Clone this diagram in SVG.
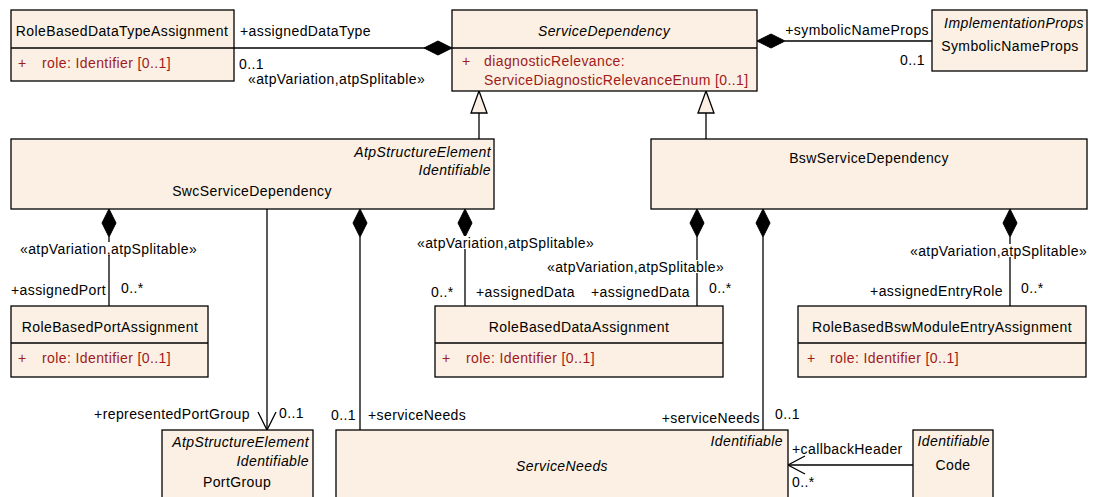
<svg xmlns="http://www.w3.org/2000/svg" width="1094" height="497" viewBox="0 0 1094 497">
<style>
text{font-family:"Liberation Sans",Arial,sans-serif;font-size:14px;letter-spacing:0.4px;fill:#000}
.box{fill:#FBF0E3;stroke:#000;stroke-width:1.3}
.div{stroke:#000;stroke-width:1.3}
.it{font-style:italic}
.m{text-anchor:middle}
.e{text-anchor:end}
.attr{fill:#A01A1A}
.ln{stroke:#000;stroke-width:1.3;fill:none}
.dia{fill:#000;stroke:#000}
.tri{fill:#FBF0E3;stroke:#000;stroke-width:1.3}
.bg{fill:#fff}
</style>
<defs>
<polygon id="dh" class="dia" points="0,0 14,-7 28,0 14,7"/>
<polygon id="dv" class="dia" points="0,0 -7,14 0,28 7,14"/>
</defs>

<g id="connectors">
<line class="ln" x1="234" y1="48" x2="425" y2="48"/>
<use href="#dh" x="424" y="48"/>
<line class="ln" x1="785" y1="41" x2="932" y2="41"/>
<use href="#dh" x="757" y="41"/>
<line class="ln" x1="479" y1="113" x2="479" y2="139"/>
<polygon class="tri" points="479,91 471,113 487,113"/>
<line class="ln" x1="706" y1="113" x2="706" y2="139"/>
<polygon class="tri" points="706,91 698,113 714,113"/>
<line class="ln" x1="109" y1="237" x2="109" y2="306"/>
<use href="#dv" x="109" y="209"/>
<line class="ln" x1="267" y1="209" x2="267" y2="430"/>
<polyline class="ln" points="258,412 267,430 276,412"/>
<line class="ln" x1="360" y1="237" x2="360" y2="430"/>
<use href="#dv" x="360" y="209"/>
<line class="ln" x1="465" y1="237" x2="465" y2="306"/>
<use href="#dv" x="465" y="209"/>
<line class="ln" x1="697" y1="237" x2="697" y2="306"/>
<use href="#dv" x="697" y="209"/>
<line class="ln" x1="763" y1="237" x2="763" y2="430"/>
<use href="#dv" x="763" y="209"/>
<line class="ln" x1="1010" y1="237" x2="1010" y2="306"/>
<use href="#dv" x="1010" y="209"/>
<line class="ln" x1="913" y1="465" x2="788" y2="465"/>
<polyline class="ln" points="805,456 788,465 805,474"/>

<text x="240" y="36">+assignedDataType</text>
<text x="239" y="69">0..1</text>
<text x="248" y="84">«atpVariation,atpSplitable»</text>
<text class="e" x="929" y="35">+symbolicNameProps</text>
<text class="e" x="925" y="65">0..1</text>

<rect class="bg" x="18" y="242" width="186" height="13"/>
<text x="20" y="254">«atpVariation,atpSplitable»</text>
<rect class="bg" x="415" y="236" width="188" height="13"/>
<text x="417" y="248">«atpVariation,atpSplitable»</text>
<rect class="bg" x="545" y="260" width="188" height="13"/>
<text x="547" y="272">«atpVariation,atpSplitable»</text>
<rect class="bg" x="908" y="244" width="186" height="13"/>
<text x="910" y="256">«atpVariation,atpSplitable»</text>

<text x="11" y="295">+assignedPort</text>
<text x="121" y="293">0..*</text>
<text x="431" y="297">0..*</text>
<text x="476" y="297">+assignedData</text>
<text class="e" x="690" y="297">+assignedData</text>
<text x="709" y="293">0..*</text>
<text class="e" x="1003" y="296">+assignedEntryRole</text>
<text x="1021" y="293">0..*</text>

<text class="e" x="250" y="419">+representedPortGroup</text>
<text x="279" y="418">0..1</text>
<text x="331" y="420">0..1</text>
<text x="368" y="420">+serviceNeeds</text>
<text class="e" x="760" y="423">+serviceNeeds</text>
<text x="775" y="419">0..1</text>
<text x="792" y="454">+callbackHeader</text>
<text x="792" y="487">0..*</text>
</g>

<g id="RoleBasedDataTypeAssignment">
<rect class="box" x="11" y="10" width="223" height="71"/>
<line class="div" x1="11" y1="48" x2="234" y2="48"/>
<text class="m" x="122" y="36">RoleBasedDataTypeAssignment</text>
<text class="attr" x="18" y="68">+</text>
<text class="attr" x="42" y="68">role: Identifier [0..1]</text>
</g>

<g id="ServiceDependency">
<rect class="box" x="452" y="10" width="305" height="81"/>
<line class="div" x1="452" y1="48" x2="757" y2="48"/>
<text class="m it" x="604" y="36">ServiceDependency</text>
<text class="attr" x="462" y="66">+</text>
<text class="attr" x="484" y="66">diagnosticRelevance:</text>
<text class="attr" x="484" y="85">ServiceDiagnosticRelevanceEnum [0..1]</text>
</g>

<g id="SymbolicNameProps">
<rect class="box" x="932" y="10" width="155" height="61"/>
<text class="e it" x="1084" y="28">ImplementationProps</text>
<text class="m" x="1010" y="51">SymbolicNameProps</text>
</g>

<g id="SwcServiceDependency">
<rect class="box" x="11" y="139" width="483" height="70"/>
<text class="e it" x="491" y="157">AtpStructureElement</text>
<text class="e it" x="491" y="175">Identifiable</text>
<text class="m" x="252" y="196">SwcServiceDependency</text>
</g>

<g id="BswServiceDependency">
<rect class="box" x="651" y="139" width="436" height="70"/>
<text class="m" x="869" y="163">BswServiceDependency</text>
</g>

<g id="RoleBasedPortAssignment">
<rect class="box" x="11" y="306" width="197" height="71"/>
<line class="div" x1="11" y1="343" x2="208" y2="343"/>
<text class="m" x="110" y="332">RoleBasedPortAssignment</text>
<text class="attr" x="18" y="363">+</text>
<text class="attr" x="42" y="363">role: Identifier [0..1]</text>
</g>

<g id="RoleBasedDataAssignment">
<rect class="box" x="435" y="306" width="288" height="71"/>
<line class="div" x1="435" y1="343" x2="723" y2="343"/>
<text class="m" x="579" y="332">RoleBasedDataAssignment</text>
<text class="attr" x="442" y="363">+</text>
<text class="attr" x="466" y="363">role: Identifier [0..1]</text>
</g>

<g id="RoleBasedBswModuleEntryAssignment">
<rect class="box" x="798" y="306" width="288" height="71"/>
<line class="div" x1="798" y1="343" x2="1086" y2="343"/>
<text class="m" x="942" y="332">RoleBasedBswModuleEntryAssignment</text>
<text class="attr" x="807" y="363">+</text>
<text class="attr" x="830" y="363">role: Identifier [0..1]</text>
</g>

<g id="PortGroup">
<rect class="box" x="162" y="430" width="151" height="80"/>
<text class="e it" x="309" y="447">AtpStructureElement</text>
<text class="e it" x="309" y="466">Identifiable</text>
<text class="m" x="237" y="487">PortGroup</text>
</g>

<g id="ServiceNeeds">
<rect class="box" x="336" y="430" width="452" height="80"/>
<text class="e it" x="783" y="446">Identifiable</text>
<text class="m it" x="562" y="471">ServiceNeeds</text>
</g>

<g id="Code">
<rect class="box" x="913" y="430" width="80" height="80"/>
<text class="e it" x="990" y="446">Identifiable</text>
<text class="m" x="953" y="470">Code</text>
</g>
</svg>
